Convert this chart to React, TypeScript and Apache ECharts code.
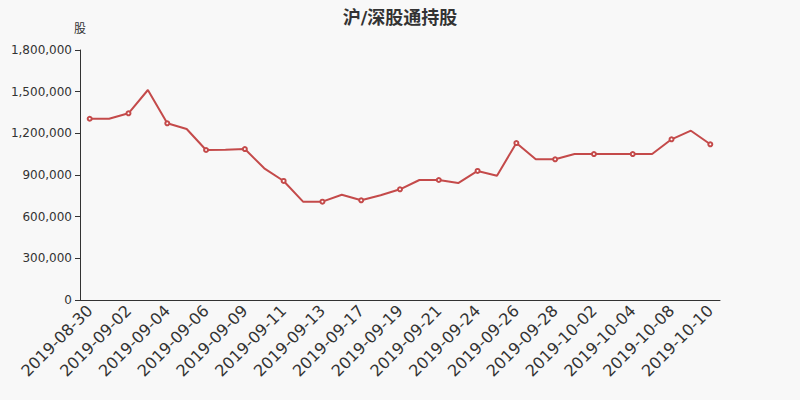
import React, { useEffect, useRef } from 'react';
import * as echarts from 'echarts';

const title = '沪/深股通持股';
const unit = '股';

const dates = [
    '2019-08-30', '2019-08-31', '2019-09-02', '2019-09-03', '2019-09-04', '2019-09-05',
    '2019-09-06', '2019-09-08', '2019-09-09', '2019-09-10', '2019-09-11', '2019-09-12',
    '2019-09-13', '2019-09-16', '2019-09-17', '2019-09-18', '2019-09-19', '2019-09-20',
    '2019-09-21', '2019-09-23', '2019-09-24', '2019-09-25', '2019-09-26', '2019-09-27',
    '2019-09-28', '2019-09-30', '2019-10-02', '2019-10-03', '2019-10-04', '2019-10-07',
    '2019-10-08', '2019-10-09', '2019-10-10'
];

const holdings = [
    1305000, 1305000, 1344000, 1512000, 1272000, 1231000,
    1080000, 1081000, 1087000, 948000, 857000, 708000,
    708000, 758000, 718000, 754000, 797000, 864000,
    864000, 842000, 929000, 895000, 1130000, 1013000,
    1013000, 1051000, 1051000, 1051000, 1051000, 1051000,
    1157000, 1219000, 1121000
];

const yMax = 1800000;
const yStep = 300000;

const App: React.FC = () => {
    const chartRef = useRef<HTMLDivElement | null>(null);

    useEffect(() => {
        document.body.style.margin = '0';
        if (!chartRef.current) return;

        const myChart = echarts.init(chartRef.current, null, { renderer: 'svg' });

        const option = {
            animation: false,
            backgroundColor: '#f8f8f8',
            textStyle: { fontFamily: 'DejaVu Sans, Noto Sans CJK SC' },
            title: {
                text: title,
                left: 'center',
                top: 3,
                textStyle: {
                    fontSize: 18,
                    fontWeight: 'bold',
                    color: '#333',
                    fontFamily: 'DejaVu Sans, Noto Sans CJK SC'
                }
            },
            grid: {
                left: 80,
                right: 80,
                top: 50,
                bottom: 100
            },
            xAxis: {
                type: 'category',
                data: dates,
                axisLine: { lineStyle: { color: '#333' } },
                axisTick: { lineStyle: { color: '#333' } },
                axisLabel: {
                    interval: 1,
                    rotate: 45,
                    fontSize: 16,
                    color: '#333'
                }
            },
            yAxis: {
                type: 'value',
                name: unit,
                min: 0,
                max: yMax,
                interval: yStep,
                nameTextStyle: { color: '#333', fontSize: 12 },
                axisLine: { show: true, lineStyle: { color: '#333' } },
                axisTick: { show: true, lineStyle: { color: '#333' } },
                splitLine: { show: false },
                axisLabel: {
                    fontSize: 12,
                    color: '#333',
                    formatter: (v: number) => v.toLocaleString('en-US')
                }
            },
            series: [
                {
                    name: title,
                    type: 'line',
                    data: holdings,
                    symbol: 'emptyCircle',
                    symbolSize: 4,
                    showAllSymbol: false,
                    lineStyle: { color: '#c44a4a', width: 2 },
                    itemStyle: { color: '#c44a4a', borderWidth: 1 }
                }
            ]
        };

        myChart.setOption(option);

        return () => {
            myChart.dispose();
        };
    }, []);

    return (
        <div
            ref={chartRef}
            style={{ width: '800px', height: '400px' }}
        />
    );
};

export default App;
